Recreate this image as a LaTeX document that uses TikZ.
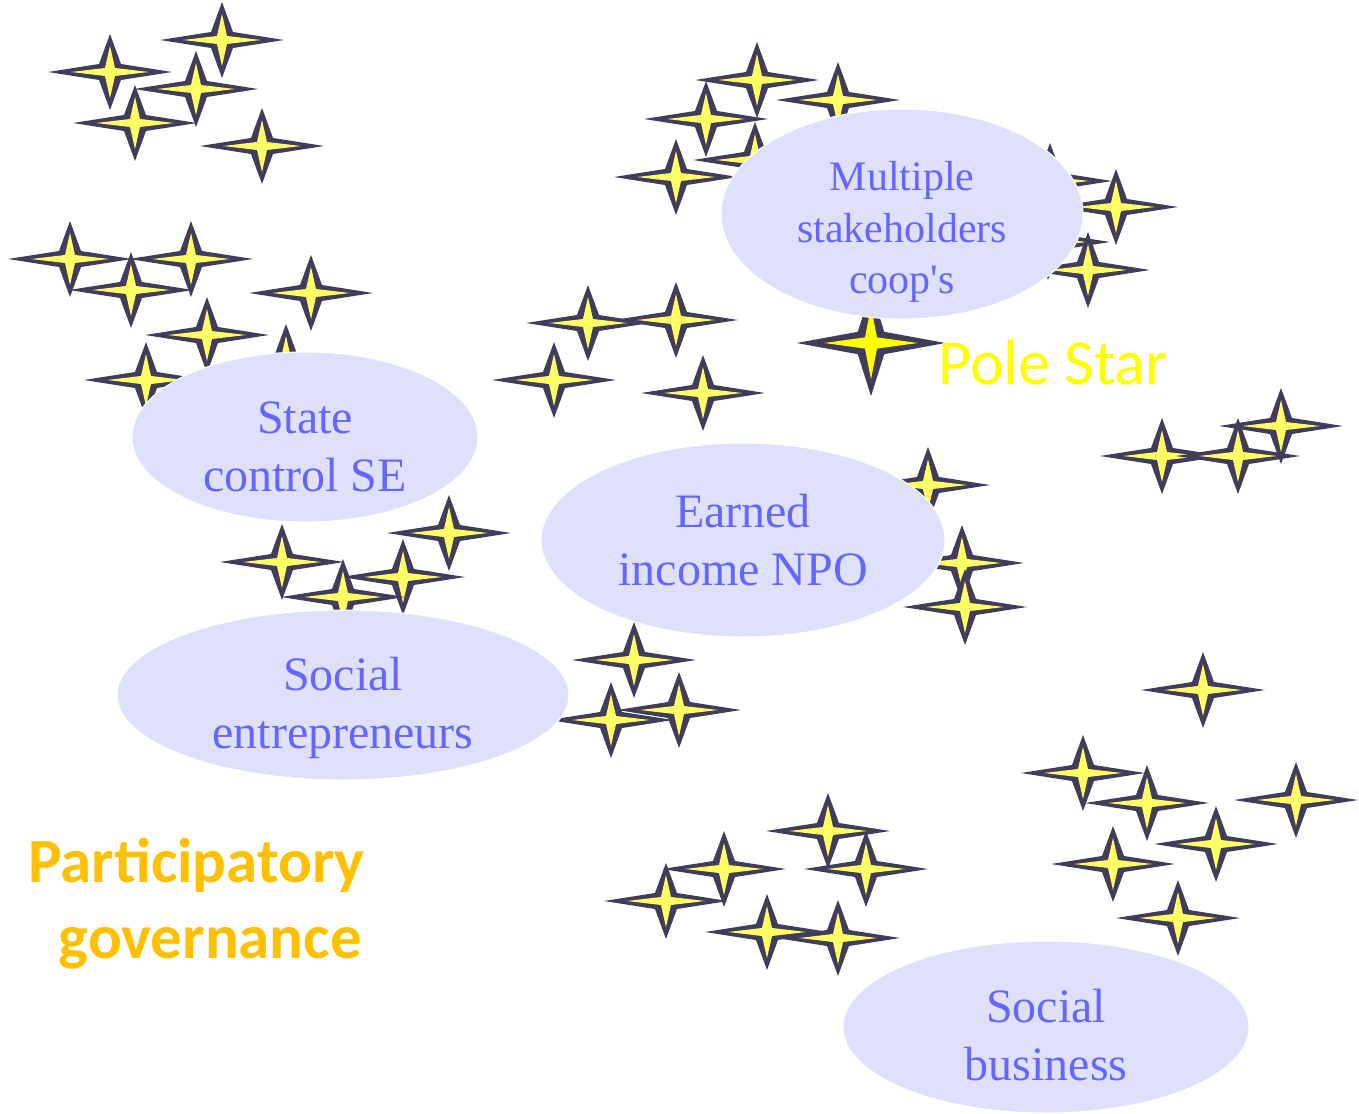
\documentclass[tikz,border=0pt]{standalone}
\usepackage{fontspec}
\setmainfont{Liberation Serif}
\newfontfamily\labelfont{Carlito}
\usetikzlibrary{shapes.geometric}
\definecolor{starline}{HTML}{403C5A}
\definecolor{starfill}{HTML}{FFFF66}
\definecolor{polefill}{HTML}{FFFF00}
\definecolor{blobfill}{HTML}{DFE0FC}
\definecolor{blobtext}{HTML}{6666FF}
\definecolor{govcol}{HTML}{FFC000}
\begin{document}
\begin{tikzpicture}[x=1pt,y=-1pt,
  pics/twinkle/.style={code={
    \fill[starline] (62,0)--(11,8)--(0,38)--(-11,8)--(-62,0)--(-11,-8)--(0,-38)--(11,-8)--cycle;
    \fill[#1] (39,0)--(5,4)--(0,26)--(-5,4)--(-39,0)--(-5,-4)--(0,-26)--(5,-4)--cycle;
  }},
  pics/twinkle/.default=starfill,
  blob/.style={ellipse,fill=blobfill,draw=white,line width=1pt,inner sep=0pt},
  blobtxt/.style={text=blobtext,align=center,inner sep=0pt,font=\fontsize{48}{58}\selectfont},
  smalltxt/.style={text=blobtext,align=center,inner sep=0pt,font=\fontsize{42}{51.5}\selectfont},
  govtxt/.style={text=govcol,inner sep=0pt,font=\labelfont\bfseries\fontsize{63}{76}\selectfont},
  poletxt/.style={text=polefill,inner sep=0pt,font=\labelfont\fontsize{64}{76}\selectfont}
]
\useasboundingbox (0,0) rectangle (1359,1113);
% stars
\foreach \p in {(110,72),(222,40),(196,89),(135,123),(262,146),
  (70,259),(191,259),(131,290),(311,293),(207,335),(146,380),(286,362),
  (282,562),(449,533),(403,577),(343,597),
  (757,80),(838,100),(706,119),(755,160),(676,177),
  (1050,181),(1116,207),(1048,242),(1088,270),
  (588,323),(676,320),(554,380),(703,393),
  (1162,456),(1238,456),(1281,426),
  (928,485),(962,563),(965,607),
  (634,660),(611,720),(679,710),
  (1203,690),
  (1083,773),(1147,803),(1296,800),(1216,844),(1113,864),(1178,918),
  (828,831),(724,869),(866,869),(666,901),(767,932),(838,938)}
  \pic at \p {twinkle};
\pic[xscale=1.2,yscale=1.4] at (871,343) {twinkle=polefill};
% ellipses
\node[blob,minimum width=362pt,minimum height=210pt] (ms) at (902,214) {};
\node[blob,minimum width=346pt,minimum height=170pt] (sc) at (305,437) {};
\node[blob,minimum width=404pt,minimum height=194pt] (ei) at (743,540) {};
\node[blob,minimum width=452pt,minimum height=170pt] (se) at (343,695) {};
\node[blob,minimum width=406pt,minimum height=172pt] (sb) at (1046,1027) {};
% texts
\node[smalltxt] (mst) at (902,232) {Multiple\\stakeholders\\coop\textquotesingle s};
\node[blobtxt] (sct) at (305,447) {State\\control SE};
\node[blobtxt] (eit) at (743,540) {Earned\\income NPO};
\node[blobtxt] (set) at (343,708) {Social\\entrepreneurs};
\node[blobtxt] (sbt) at (1046,1035) {Social\\business};
\node[poletxt,anchor=base west] (pole) at (938,384) {Pole Star};
\node[govtxt,anchor=base east] (gov1) at (365,882) {Participatory};
\node[govtxt,anchor=base east] (gov2) at (362,958) {governance};
\end{tikzpicture}
\end{document}
